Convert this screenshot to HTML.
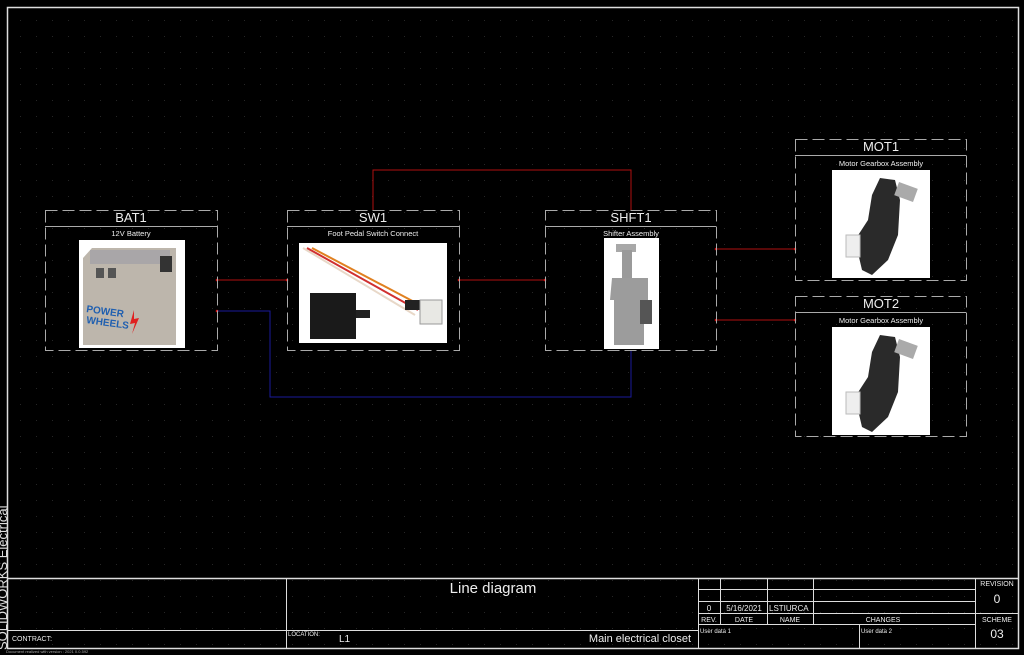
<!DOCTYPE html>
<html><head><meta charset="utf-8"><style>
html,body{margin:0;padding:0;background:#000;}
svg{display:block;font-family:"Liberation Sans",sans-serif;}
</style></head><body>
<svg width="1024" height="655" viewBox="0 0 1024 655" xmlns="http://www.w3.org/2000/svg">
<defs>
<pattern id="g" width="16" height="16" patternUnits="userSpaceOnUse" x="4" y="4">
<rect x="0" y="0" width="1" height="1" fill="#262626"/>
</pattern>
</defs>
<rect width="1024" height="655" fill="#000"/>
<rect x="8" y="8" width="1011" height="640" fill="url(#g)"/>
<rect x="7.5" y="7.5" width="1011" height="641" fill="none" stroke="#ddd" stroke-width="1.5"/>

<!-- wires -->
<g stroke="#b01010" stroke-width="1" fill="none">
<path d="M217 280H287"/>
<path d="M459 280H545"/>
<path d="M373 210V170H631V210"/>
<path d="M716 249H795"/>
<path d="M716 320H795"/>
</g>
<path d="M217 311H270V397H631V350" stroke="#1a1a9a" stroke-width="1" fill="none"/>
<g fill="#d01010">
<circle cx="217" cy="280" r="1.3"/><circle cx="287" cy="280" r="1.3"/>
<circle cx="459" cy="280" r="1.3"/><circle cx="545" cy="280" r="1.3"/>
<circle cx="716" cy="249" r="1.3"/><circle cx="795" cy="249" r="1.3"/>
<circle cx="716" cy="320" r="1.3"/><circle cx="795" cy="320" r="1.3"/>
<circle cx="217" cy="311" r="1.3"/>
</g>

<!-- boxes -->
<g fill="none" stroke="#aaa" stroke-width="1" stroke-dasharray="12,5">
<rect x="45.5" y="210.5" width="172" height="140"/>
<rect x="287.5" y="210.5" width="172" height="140"/>
<rect x="545.5" y="210.5" width="171" height="140"/>
<rect x="795.5" y="139.5" width="171" height="141"/>
<rect x="795.5" y="296.5" width="171" height="140"/>
</g>
<g stroke="#aaa" stroke-width="1">
<line x1="45" y1="226.5" x2="217" y2="226.5"/>
<line x1="287" y1="226.5" x2="459" y2="226.5"/>
<line x1="545" y1="226.5" x2="716" y2="226.5"/>
<line x1="795" y1="155.5" x2="966" y2="155.5"/>
<line x1="795" y1="312.5" x2="966" y2="312.5"/>
</g>
<g fill="#eee" text-anchor="middle">
<text x="131" y="222" font-size="13">BAT1</text>
<text x="373" y="222" font-size="13">SW1</text>
<text x="631" y="222" font-size="13">SHFT1</text>
<text x="881" y="151" font-size="13">MOT1</text>
<text x="881" y="308" font-size="13">MOT2</text>
<text x="131" y="236" font-size="7.5">12V Battery</text>
<text x="373" y="236" font-size="7.5">Foot Pedal Switch Connect</text>
<text x="631" y="236" font-size="7.5">Shifter Assembly</text>
<text x="881" y="166" font-size="7.5">Motor Gearbox Assembly</text>
<text x="881" y="323" font-size="7.5">Motor Gearbox Assembly</text>
</g>

<!-- battery image -->
<rect x="79" y="240" width="106" height="108" fill="#fff"/>
<path d="M83 258L92 248H176L176 262V345H83Z" fill="#bdb6ac"/>
<rect x="90" y="250" width="80" height="14" fill="#a9a6a8"/>
<rect x="96" y="268" width="8" height="10" fill="#555"/>
<rect x="108" y="268" width="8" height="10" fill="#555"/>
<rect x="160" y="256" width="12" height="16" fill="#333"/>
<text x="86" y="312" font-size="10" font-weight="bold" fill="#1f5fb0" transform="rotate(8 86 312)">POWER</text>
<text x="86" y="323" font-size="10" font-weight="bold" fill="#1f5fb0" transform="rotate(8 86 323)">WHEELS</text>
<path d="M134 310L130 324L135 323L132 334L139 318L134 319Z" fill="#e02020"/>

<!-- switch image -->
<rect x="299" y="243" width="148" height="100" fill="#fff"/>
<path d="M303 248L415 315" stroke="#e8d8c8" stroke-width="2"/>
<path d="M307 248L418 310" stroke="#d03030" stroke-width="2"/>
<path d="M312 248L420 305" stroke="#e08020" stroke-width="2"/>
<rect x="405" y="300" width="16" height="10" fill="#222"/>
<rect x="420" y="300" width="22" height="24" fill="#e8e8e4" stroke="#999"/>
<rect x="310" y="293" width="46" height="46" fill="#1a1a1a"/>
<rect x="356" y="310" width="14" height="8" fill="#222"/>

<!-- shifter image -->
<rect x="604" y="238" width="55" height="111" fill="#fff"/>
<rect x="616" y="244" width="20" height="8" fill="#a8a8a8"/>
<rect x="622" y="250" width="10" height="30" fill="#9a9a9a"/>
<path d="M612 278H648V300H644V345H614V300H610Z" fill="#9c9c9c"/>
<rect x="640" y="300" width="12" height="24" fill="#555"/>

<!-- motor images -->
<g id="mot">
<rect x="832" y="170" width="98" height="108" fill="#fff"/>
<path d="M880 178L895 180L900 200L898 235L888 260L872 275L862 270L855 240L868 220L872 195Z" fill="#2a2a2a"/>
<rect x="896" y="185" width="20" height="14" fill="#aaa" transform="rotate(20 906 192)"/>
<rect x="846" y="235" width="14" height="22" fill="#eee" stroke="#bbb"/>
</g>
<use href="#mot" transform="translate(0 157)"/>

<!-- title block -->
<g stroke="#ddd" stroke-width="1" fill="none">
<line x1="8" y1="578.5" x2="1019" y2="578.5" stroke-width="1.5"/>
<line x1="8" y1="630.5" x2="698" y2="630.5"/>
<line x1="286.5" y1="578" x2="286.5" y2="648"/>
<line x1="698.5" y1="578" x2="698.5" y2="648"/>
<line x1="720.5" y1="578" x2="720.5" y2="624"/>
<line x1="767.5" y1="578" x2="767.5" y2="624"/>
<line x1="813.5" y1="578" x2="813.5" y2="624"/>
<line x1="859.5" y1="624" x2="859.5" y2="648"/>
<line x1="975.5" y1="578" x2="975.5" y2="648"/>
<line x1="698" y1="589.5" x2="975" y2="589.5"/>
<line x1="698" y1="601.5" x2="975" y2="601.5"/>
<line x1="698" y1="613.5" x2="1019" y2="613.5"/>
<line x1="698" y1="624.5" x2="975" y2="624.5"/>
</g>
<g fill="#eee">
<text x="493" y="593" font-size="15" text-anchor="middle">Line diagram</text>
<text x="12" y="641" font-size="7">CONTRACT:</text>
<text x="288" y="636" font-size="6">LOCATION:</text>
<text x="339" y="642" font-size="10">L1</text>
<text x="691" y="642" font-size="11" text-anchor="end">Main electrical closet</text>
<text x="709" y="611" font-size="8" text-anchor="middle">0</text>
<text x="744" y="611" font-size="8" text-anchor="middle">5/16/2021</text>
<text x="769" y="611" font-size="8">LSTIURCA</text>
<text x="709" y="622" font-size="7" text-anchor="middle">REV.</text>
<text x="744" y="622" font-size="7" text-anchor="middle">DATE</text>
<text x="790" y="622" font-size="7" text-anchor="middle">NAME</text>
<text x="883" y="622" font-size="7" text-anchor="middle">CHANGES</text>
<text x="700" y="633" font-size="6">User data 1</text>
<text x="861" y="633" font-size="6">User data 2</text>
<text x="997" y="586" font-size="7" text-anchor="middle">REVISION</text>
<text x="997" y="603" font-size="12" text-anchor="middle">0</text>
<text x="997" y="622" font-size="7" text-anchor="middle">SCHEME</text>
<text x="997" y="638" font-size="12" text-anchor="middle">03</text>
<text x="6" y="653" font-size="4" fill="#aaa">Document realized with version : 2021 0.0.592</text>
<text x="7" y="650" font-size="13" transform="rotate(-90 7 650)" fill="#ddd">SOLIDWORKS Electrical</text>
</g>
</svg>
</body></html>
